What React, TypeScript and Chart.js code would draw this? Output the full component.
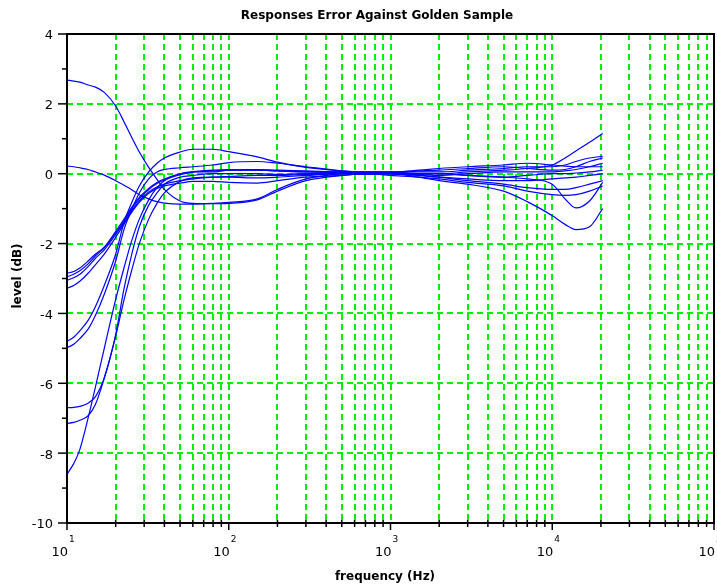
import React, { useEffect, useRef } from "react";
import { Chart, registerables } from "chart.js";

Chart.register(...registerables);

const TITLE = "Responses Error Against Golden Sample";
const X_TITLE = "frequency (Hz)";
const Y_TITLE = "level (dB)";

const FREQ = [10, 11, 12, 13.5, 15, 17, 20, 22.5, 25, 28, 32, 36, 40, 50, 60, 80, 100, 150, 200, 300, 500, 700, 1000, 1500, 2000, 3000, 5000, 7000, 10000, 12000, 14000, 17000, 20500];

const A = [2.68, 2.65, 2.62, 2.54, 2.48, 2.33, 1.94, 1.49, 1.06, 0.62, 0.18, -0.16, -0.45, -0.78, -0.85, -0.86, -0.85, -0.75, -0.50, -0.20, -0.05, 0.00, 0.02, 0.00, 0.00, -0.05, -0.10, -0.05, 0.00, 0.00, 0.02, 0.05, 0.10];
const B = [0.22, 0.20, 0.17, 0.12, 0.05, -0.04, -0.20, -0.33, -0.45, -0.60, -0.72, -0.80, -0.84, -0.87, -0.87, -0.85, -0.82, -0.72, -0.45, -0.15, 0.00, 0.05, 0.05, 0.08, 0.10, 0.15, 0.20, 0.15, 0.10, 0.12, 0.20, 0.35, 0.45];
const C1 = [-2.85, -2.80, -2.70, -2.50, -2.30, -2.10, -1.65, -1.30, -0.98, -0.68, -0.42, -0.25, -0.15, 0.00, 0.05, 0.08, 0.10, 0.10, 0.08, 0.05, 0.03, 0.02, 0.00, 0.00, 0.00, 0.05, 0.10, 0.15, 0.25, 0.45, 0.65, 0.90, 1.15];
const C2 = [-2.95, -2.88, -2.78, -2.58, -2.35, -2.12, -1.70, -1.35, -1.02, -0.72, -0.45, -0.28, -0.18, -0.03, 0.05, 0.10, 0.12, 0.12, 0.10, 0.08, 0.05, 0.05, 0.03, 0.05, 0.05, 0.10, 0.15, 0.20, 0.20, 0.25, 0.35, 0.45, 0.50];
const C3 = [-3.05, -2.98, -2.88, -2.66, -2.42, -2.18, -1.74, -1.40, -1.08, -0.78, -0.52, -0.38, -0.30, -0.20, -0.15, -0.10, -0.08, -0.05, -0.05, -0.02, 0.00, 0.00, -0.05, -0.10, -0.15, -0.25, -0.35, -0.50, -0.60, -0.62, -0.60, -0.50, -0.35];
const C4 = [-3.28, -3.20, -3.08, -2.85, -2.60, -2.30, -1.82, -1.45, -1.12, -0.82, -0.56, -0.42, -0.35, -0.27, -0.22, -0.22, -0.25, -0.27, -0.20, -0.10, -0.05, 0.00, 0.00, -0.02, -0.05, 0.00, 0.05, 0.05, 0.05, 0.08, 0.12, 0.20, 0.30];
const D1 = [-4.80, -4.68, -4.50, -4.20, -3.80, -3.20, -2.30, -1.40, -0.85, -0.35, 0.05, 0.30, 0.45, 0.62, 0.70, 0.70, 0.63, 0.48, 0.33, 0.18, 0.08, 0.04, 0.00, -0.05, -0.10, -0.15, -0.20, -0.20, -0.15, -0.12, -0.10, -0.05, 0.00];
const D2 = [-4.98, -4.88, -4.72, -4.45, -4.05, -3.45, -2.50, -1.60, -1.05, -0.55, -0.15, 0.05, 0.12, 0.17, 0.20, 0.25, 0.32, 0.35, 0.30, 0.20, 0.08, 0.03, 0.00, 0.00, 0.00, -0.05, -0.10, -0.15, -0.30, -0.72, -0.98, -0.78, -0.25];
const E1 = [-6.70, -6.69, -6.66, -6.57, -6.38, -5.85, -4.60, -3.30, -2.35, -1.52, -0.90, -0.55, -0.30, -0.10, -0.05, 0.00, 0.00, 0.00, -0.02, 0.00, 0.00, -0.02, 0.00, -0.05, -0.10, -0.20, -0.30, -0.40, -0.45, -0.45, -0.40, -0.30, -0.20];
const E2 = [-7.15, -7.12, -7.06, -6.93, -6.60, -5.85, -4.65, -3.62, -2.80, -2.00, -1.30, -0.85, -0.55, -0.22, -0.12, -0.10, -0.10, -0.12, -0.10, -0.05, 0.00, 0.00, 0.00, -0.10, -0.20, -0.30, -0.50, -0.80, -1.20, -1.45, -1.60, -1.52, -1.00];
const E3 = [-8.60, -8.30, -7.90, -7.00, -6.10, -5.00, -3.60, -2.70, -1.95, -1.30, -0.75, -0.40, -0.20, 0.00, 0.05, 0.05, 0.10, 0.10, 0.08, 0.05, 0.05, 0.05, 0.05, 0.10, 0.15, 0.20, 0.25, 0.30, 0.25, 0.22, 0.20, 0.20, 0.20];

const SERIES = [A, B, C1, C2, C3, C4, D1, D2, E1, E2, E3];

const X_DECADES = [1, 2, 3, 4, 5];
const Y_MAJOR = [-10, -8, -6, -4, -2, 0, 2, 4];
const Y_MINOR = [-9, -7, -5, -3, -1, 1, 3];
const Y_GRID = [-8, -6, -4, -2, 0, 2];

const FONT = '"DejaVu Sans", sans-serif';

const decor = {
  id: "decor",
  beforeDatasetsDraw(chart: any) {
    const { ctx, chartArea } = chart;
    const { left, right, top, bottom } = chartArea;
    const xs = chart.scales.x;
    const ys = chart.scales.y;
    ctx.save();
    ctx.strokeStyle = "#00f000";
    ctx.lineWidth = 2;
    ctx.setLineDash([6, 4]);
    for (let n = 1; n <= 4; n++) {
      for (let k = 1; k <= 9; k++) {
        const v = k * Math.pow(10, n);
        if (v <= 10) continue;
        const px = Math.round(xs.getPixelForValue(v));
        ctx.beginPath();
        ctx.moveTo(px, top);
        ctx.lineTo(px, bottom);
        ctx.stroke();
      }
    }
    for (const v of Y_GRID) {
      const py = Math.round(ys.getPixelForValue(v));
      ctx.beginPath();
      ctx.moveTo(left, py);
      ctx.lineTo(right, py);
      ctx.stroke();
    }
    ctx.restore();
  },
  afterDatasetsDraw(chart: any) {
    const { ctx, chartArea } = chart;
    const { left, right, top, bottom } = chartArea;
    const xs = chart.scales.x;
    const ys = chart.scales.y;
    ctx.save();
    ctx.setLineDash([]);
    ctx.strokeStyle = "#000";
    ctx.lineWidth = 2;
    ctx.beginPath();
    ctx.moveTo(left, top);
    ctx.lineTo(right, top);
    ctx.lineTo(right, bottom);
    ctx.lineTo(left, bottom);
    ctx.closePath();
    ctx.stroke();

    ctx.lineWidth = 1.5;
    for (const v of Y_MAJOR) {
      const py = ys.getPixelForValue(v);
      ctx.beginPath();
      ctx.moveTo(left - 9, py);
      ctx.lineTo(left, py);
      ctx.stroke();
    }
    for (const v of Y_MINOR) {
      const py = ys.getPixelForValue(v);
      ctx.beginPath();
      ctx.moveTo(left - 5, py);
      ctx.lineTo(left, py);
      ctx.stroke();
    }
    for (const d of X_DECADES) {
      const px = xs.getPixelForValue(Math.pow(10, d));
      ctx.beginPath();
      ctx.moveTo(px, bottom);
      ctx.lineTo(px, bottom + 7);
      ctx.stroke();
      if (d < 5) {
        for (let k = 2; k <= 9; k++) {
          const mx = xs.getPixelForValue(k * Math.pow(10, d));
          ctx.beginPath();
          ctx.moveTo(mx, bottom - 3);
          ctx.lineTo(mx, bottom + 4);
          ctx.stroke();
        }
      }
    }

    ctx.fillStyle = "#000";
    ctx.font = `13px ${FONT}`;
    ctx.textAlign = "right";
    ctx.textBaseline = "middle";
    for (const v of Y_MAJOR) {
      const py = ys.getPixelForValue(v);
      ctx.fillText(String(v), left - 14, py + 2);
    }
    for (const d of X_DECADES) {
      const px = xs.getPixelForValue(Math.pow(10, d));
      ctx.font = `13px ${FONT}`;
      ctx.textAlign = "right";
      ctx.fillText("10", px + 1, bottom + 30);
      ctx.font = `9px ${FONT}`;
      ctx.textAlign = "left";
      ctx.fillText(String(d), px + 2, bottom + 17);
    }

    ctx.font = `bold 12px ${FONT}`;
    ctx.textAlign = "center";
    ctx.fillText(TITLE, 377, 16);
    ctx.fillText(X_TITLE, 385, 577);
    ctx.translate(18, 276);
    ctx.rotate(-Math.PI / 2);
    ctx.fillText(Y_TITLE, 0, 0);
    ctx.restore();
  },
};

export default function App() {
  const ref = useRef<HTMLCanvasElement>(null);
  useEffect(() => {
    const canvas = ref.current;
    if (!canvas) return;
    const chart = new Chart(canvas, {
      type: "line",
      data: {
        datasets: SERIES.map((s) => ({
          data: FREQ.map((f, i) => ({ x: f, y: s[i] })),
          borderColor: "#0000ff",
          borderWidth: 1.2,
          pointRadius: 0,
          fill: false,
          cubicInterpolationMode: "monotone" as const,
        })),
      },
      options: {
        responsive: false,
        animation: false,
        devicePixelRatio: 1,
        layout: { padding: { left: 67, top: 34, right: 3, bottom: 62 } },
        plugins: { legend: { display: false }, tooltip: { enabled: false }, title: { display: false } },
        scales: {
          x: { type: "logarithmic", min: 10, max: 100000, display: false },
          y: { type: "linear", min: -10, max: 4, display: false },
        },
      },
      plugins: [decor],
    });
    return () => chart.destroy();
  }, []);
  return (
    <div style={{ position: "fixed", left: 0, top: 0, width: 717, height: 585, background: "#fff" }}>
      <canvas ref={ref} width={717} height={585} style={{ display: "block", width: 717, height: 585 }} />
    </div>
  );
}
